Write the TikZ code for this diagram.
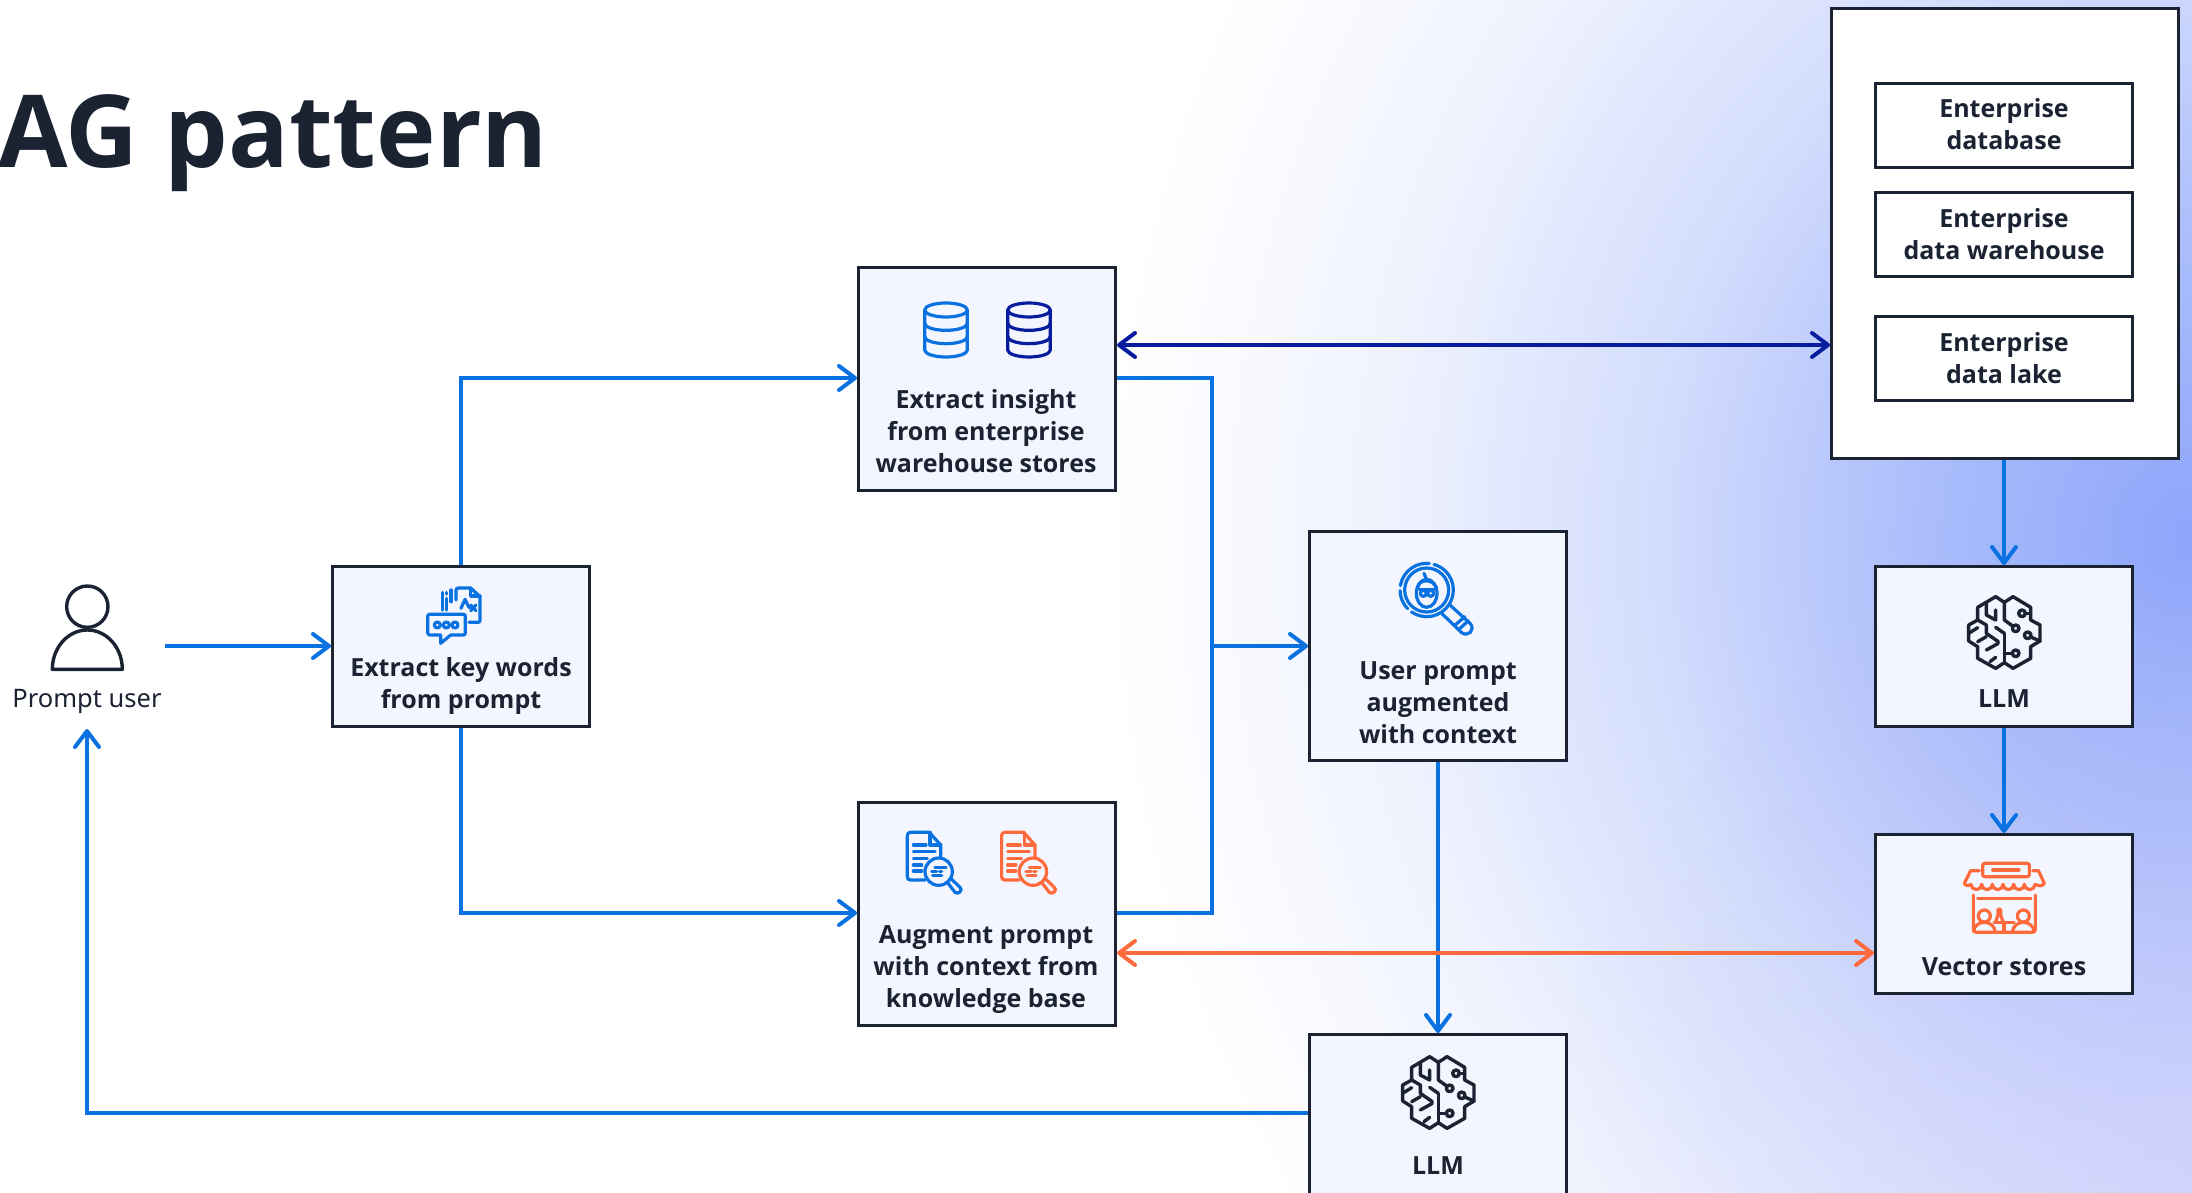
\documentclass[tikz,border=0pt]{standalone}
\usepackage{fontspec}
\setmainfont{Noto Sans}
\newfontfamily\heavy{Open Sans}
\usetikzlibrary{arrows.meta,calc,fadings}
\definecolor{ink}{HTML}{1B2333}
\definecolor{flow}{HTML}{0972E0}
\definecolor{navy}{HTML}{071D9E}
\definecolor{coral}{HTML}{FF6A3D}
\definecolor{panel}{HTML}{F3F6FF}
\definecolor{c0}{HTML}{8DA5FB}
\definecolor{c1}{HTML}{ABBDFB}
\definecolor{c2}{HTML}{D3DDFD}
\definecolor{c3}{HTML}{F0F3FE}
\definecolor{lav}{HTML}{C6C2FA}
\pgfdeclareradialshading{bgglow}{\pgfpoint{0bp}{0bp}}{%
 color(0bp)=(c0);color(6.25bp)=(c1);color(12.5bp)=(c2);color(18.75bp)=(c3);color(25bp)=(white);color(50bp)=(white)}
\tikzfading[name=cornerfade,inner color=transparent!60,outer color=transparent!100]
\tikzset{
 x=1pt,y=-1pt,
 panelbox/.style={draw=ink,fill=panel,line width=3pt,minimum width=257pt,inner sep=0pt,anchor=north west},
 whitebox/.style={panelbox,fill=white},
 lbl/.style={font=\fontsize{25}{32}\selectfont\heavy\bfseries,text=ink,align=center,inner sep=0pt},
 flowline/.style={draw=flow,line width=4pt},
 tipped/.style={-{Straight Barb[length=16pt,width=24pt,round]}},
 bothtip/.style={{Straight Barb[length=16pt,width=24pt,round]}-{Straight Barb[length=16pt,width=24pt,round]}},
 glyph/.style={line width=3.2pt,line cap=round,line join=round},
 zoomed/.style={x=0.33333pt,y=-0.33333pt},
}
\newcommand{\brainicon}[2]{%
\begin{scope}[shift={(#1,#2)},zoomed,glyph,draw=ink,line width=3.4pt]
\draw (377,80)--(403,97)--(429,80)--(482,112)--(482,150)--(510,165)--(510,213)--(482,230)--(482,265)--(429,295)--(403,278)--(377,295)--(323,265)--(323,230)--(296,213)--(296,165)--(323,150)--(323,112)--cycle;
\draw (403,97)--(403,150)--(428,168);
\draw (437,175) circle (10);
\draw (456,130) circle (10);\draw (466,130)--(482,130);
\draw (473,196) circle (10);\draw (482,201)--(510,213);
\draw (437,250) circle (10);\draw (427,250)--(403,250);
\draw (403,190)--(403,278);
\draw (349,100)--(349,135)--(377,150)--(377,120);
\draw (323,150)--(349,165)--(349,190)--(385,215);
\draw (296,190)--(323,173);\draw (323,215)--(349,200);
\draw (349,240)--(385,220);\draw (360,275)--(377,262);
\draw (377,172)--(403,190);
\end{scope}}
\newcommand{\dbicon}[3]{%
\begin{scope}[shift={(#1,#2)},zoomed,glyph,draw=#3]
\draw (0,0) ellipse [x radius=64,y radius=21];
\draw (-64,0)--(-64,120) arc [start angle=180,end angle=360,x radius=64,y radius=-21]--(64,0);
\draw (-64,40) arc [start angle=180,end angle=360,x radius=64,y radius=-21];
\draw (-64,80) arc [start angle=180,end angle=360,x radius=64,y radius=-21];
\end{scope}}
\newcommand{\docicon}[3]{%
\begin{scope}[shift={(#1,#2)},zoomed,glyph,draw=#3]
\draw (268,127)--(212,127)..controls (205,127) and (202,130) .. (202,137)--(202,260)..controls (202,267) and (205,270) .. (212,270)--(255,270);
\draw (268,127)--(302,165)--(302,205);
\draw (270,127)--(270,165)--(302,165);
\draw (220,165)--(258,165);\draw (220,185)--(285,185);\draw (220,205)--(262,205);\draw (220,225)--(245,225);\draw (220,243)--(245,243);
\draw (296,245) circle (41);
\draw (322,277)--(345,307)..controls (355,315) and (370,300) .. (360,292)--(333,266);
\draw (285,232)--(318,232);\draw (298,245)--(305,245);\draw (275,245)--(290,245);\draw (278,257)--(305,257);
\end{scope}}
\begin{document}
\begin{tikzpicture}
\useasboundingbox (0,0) rectangle (2192,1193);
\begin{scope}
\clip (0,0) rectangle (2192,1193);
\fill[white] (0,0) rectangle (2192,1193);
\path[shading=bgglow] (2192,540) ellipse [x radius=1090,y radius=1200];
\fill[lav,path fading=cornerfade] (2192,1193) circle (650);
\node[font=\fontsize{100.7}{110}\selectfont\heavy\bfseries,text=ink,anchor=base west,inner sep=0pt] (title) at (-2,168) {AG pattern};
\end{scope}

% boxes
\node[whitebox,minimum width=347pt,minimum height=450pt] (sources) at (1830,7) {};
\node[whitebox,minimum height=84pt] (edb) at (1874,82) {};
\node[whitebox,minimum height=84pt] (edw) at (1874,191) {};
\node[whitebox,minimum height=84pt] (edl) at (1874,315) {};
\node[panelbox,minimum height=223pt] (insight) at (857,266) {};
\node[panelbox,minimum height=223pt] (augment) at (857,801) {};
\node[panelbox,minimum height=160pt] (keywords) at (331,565) {};
\node[panelbox,minimum height=229pt] (context) at (1308,530) {};
\node[panelbox,minimum height=175pt] (llmb) at (1308,1033) {};
\node[panelbox,minimum height=160pt] (llmr) at (1874,565) {};
\node[panelbox,minimum height=159pt] (vector) at (1874,833) {};

% coordinates for connectors
\coordinate (userout) at (165,646);
\coordinate (userin) at (87,729);
\coordinate (busN) at (1212,378);
\coordinate (busS) at (1212,913);
\coordinate (busM) at (1212,646);
\coordinate (navyrow) at (1400,345);
\coordinate (coralrow) at (1400,953);
\coordinate (returnrow) at (1000,1113);

% connectors
\draw[flowline,tipped] (userout) -- (keywords.west |- userout);
\draw[flowline,tipped] (keywords.north) |- (insight.west |- busN);
\draw[flowline,tipped] (keywords.south) |- (augment.west |- busS);
\draw[flowline] (insight.east |- busN) -- (busN) -- (busS) -- (augment.east |- busS);
\draw[flowline,tipped] (busM) -- (context.west |- busM);
\draw[flowline,tipped] (context.south) -- (llmb.north);
\draw[flowline,tipped] (llmb.west |- returnrow) -| (userin);
\draw[flowline,tipped] (llmr.north |- sources.south) -- (llmr.north);
\draw[flowline,tipped] (llmr.south) -- (vector.north);
\draw[draw=navy,line width=4pt,bothtip] (insight.east |- navyrow) -- (sources.west |- navyrow);
\draw[draw=coral,line width=4pt,bothtip] (augment.east |- coralrow) -- (vector.west |- coralrow);

% labels
\node[lbl] (tdb) at (2004,124) {Enterprise\\database};
\node[lbl] (tdw) at (2004,234) {Enterprise\\data warehouse};
\node[lbl] (tdl) at (2004,358) {Enterprise\\data lake};
\node[lbl] (tinsight) at (986,431) {Extract insight\\from enterprise\\warehouse stores};
\node[lbl] (taugment) at (986,970) {Augment prompt\\with context from\\knowledge base};
\node[lbl] (tkey) at (461,686) {Extract key words\\from prompt};
\node[lbl] (tcontext) at (1438,703) {User prompt\\augmented\\with context};
\node[lbl] (tllmr) at (2004,699) {LLM};
\node[lbl] (tllmb) at (1438,1166) {LLM};
\node[lbl] (tvector) at (2004,967) {Vector stores};
\node[font=\fontsize{25.5}{32}\selectfont,text=ink,inner sep=0pt] (tuser) at (87,701) {Prompt user};

% person
\begin{scope}[shift={(0,560)},zoomed,glyph,draw=ink,line width=3.4pt]
\draw (262,140) circle (62);
\draw (157,328) arc [start angle=180,end angle=0,x radius=105,y radius=-118] -- cycle;
\end{scope}
% icons
\dbicon{946}{310}{flow}
\dbicon{1029}{310}{navy}
\docicon{840}{790}{flow}
\docicon{934.3}{790}{coral}
\brainicon{1870}{570}
\brainicon{1304}{1030}
% keyword icon
\begin{scope}[shift={(320,560)},zoomed,glyph,draw=flow]
\draw (408,120)--(408,92)..controls (408,86) and (410,84) .. (416,84)--(452,84)--(480,110)--(480,180)..controls (480,185) and (478,187) .. (474,187)--(447,187);
\draw (452,84)--(452,108)--(480,108);
\draw (423,145)--(435,118)--(447,142)--(452,142);
\draw (452,135)--(468,152);\draw (452,152)--(468,135);
\draw (367,97)--(367,150);\draw (380,115)--(380,150);\draw (380,97)--(380,102);\draw (393,90)--(393,125);
\draw (330,163)--(430,163)..controls (434,163) and (436,165) .. (436,169)--(436,218)..controls (436,222) and (434,225) .. (430,225)--(392,225)--(362,250)--(362,225)--(330,225)..controls (326,225) and (323,222) .. (323,218)--(323,169)..controls (323,165) and (326,163) .. (330,163)--cycle;
\draw (352,195) circle (9);\draw (379,195) circle (9);\draw (405,195) circle (9);
\end{scope}
% user prompt icon
\begin{scope}[shift={(1300,530)},zoomed,glyph,draw=flow]
\draw[dash pattern=on 58pt off 5pt on 20pt off 5pt on 40pt off 5pt] (380,180) circle (80);
\draw (380,180) circle (66);
\draw (450,225)--(512,282)..controls (525,300) and (505,322) .. (485,308)--(425,250);
\draw (465,285)--(495,260);\draw (478,297)--(505,272);
\draw (380,190) ellipse [x radius=31,y radius=42];
\draw (358,178)--(402,178);
\draw (370,190) circle (9);\draw (392,190) circle (9);
\draw (352,175)..controls (355,145) and (400,145) .. (410,175);
\draw (372,130)--(380,150);
\end{scope}
% store icon
\begin{scope}[shift={(1870,830)},zoomed,glyph,draw=coral]
\draw[rounded corners=2pt] (338,100) rectangle (478,140);
\draw (368,120)--(447,120);
\draw (328,122)--(302,122)--(283,160);
\draw (488,122)--(505,122)--(523,160);
\draw (283,160)..controls (288,168) and (298,170) .. (303,163) arc [start angle=180,end angle=0,radius=16] arc [start angle=180,end angle=0,radius=16] arc [start angle=180,end angle=0,radius=16] arc [start angle=180,end angle=0,radius=16] arc [start angle=180,end angle=0,radius=16] arc [start angle=180,end angle=0,radius=16]..controls (508,170) and (518,168) .. (523,160);
\draw (310,195)--(310,298)..controls (310,304) and (313,307) .. (319,307)--(487,307)..controls (493,307) and (496,304) .. (496,298)--(496,195);
\draw (323,205)--(483,205);
\draw (343,258) circle (18);\draw (460,258) circle (18);
\draw (311,305) arc [start angle=180,end angle=0,x radius=32,y radius=-28];
\draw (428,305) arc [start angle=180,end angle=0,x radius=32,y radius=-28];
\draw (372,278)--(432,278);\draw (402,278)--(402,305);
\draw (376,278)--(384,255)--(384,238)--(392,238)--(392,255)--(400,278);
\end{scope}
\end{tikzpicture}
\end{document}
